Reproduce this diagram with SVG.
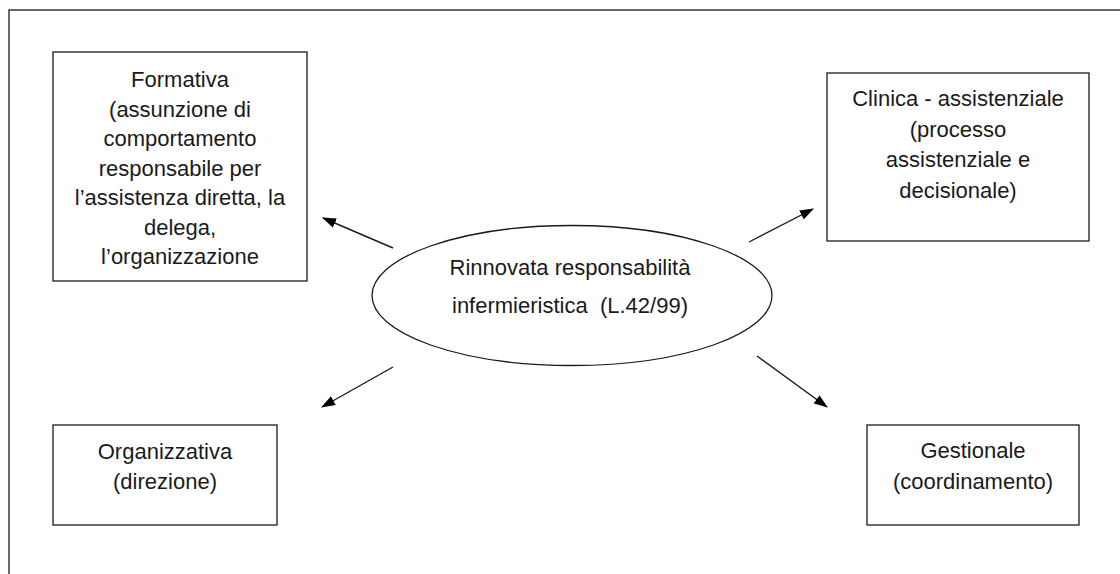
<svg xmlns="http://www.w3.org/2000/svg" width="1120" height="574" viewBox="0 0 1120 574">
<style>
.box{fill:#fff;stroke:#1a1a1a;stroke-width:1.3}
.t{font-family:"Liberation Sans",Arial,sans-serif;font-size:22px;fill:#1a1a1a;text-anchor:middle}
.c{stroke:#1a1a1a;stroke-width:1.4;fill:none;marker-end:url(#ah)}
</style>
<defs>
<marker id="ah" viewBox="0 0 14 10" refX="13" refY="5" markerWidth="14" markerHeight="10" markerUnits="userSpaceOnUse" orient="auto">
<path d="M0,0 L14,5 L0,10 z" fill="#000"/>
</marker>
</defs>
<rect x="0" y="0" width="1120" height="574" fill="#fff"/>
<rect x="9" y="10" width="1120" height="600" fill="none" stroke="#1a1a1a" stroke-width="1.3"/>
<g id="connectors">
<line class="c" x1="393" y1="248" x2="323" y2="218"/>
<line class="c" x1="749" y1="242" x2="813" y2="209"/>
<line class="c" x1="393" y1="367" x2="322" y2="407"/>
<line class="c" x1="757" y1="356" x2="827" y2="407"/>
</g>
<g id="node-formativa">
<rect class="box" x="53" y="52" width="254" height="229"/>
<text class="t" x="180" y="87">Formativa</text>
<text class="t" x="180" y="117">(assunzione di</text>
<text class="t" x="180" y="146">comportamento</text>
<text class="t" x="180" y="176">responsabile per</text>
<text class="t" x="180" y="205">l’assistenza diretta, la</text>
<text class="t" x="180" y="235">delega,</text>
<text class="t" x="180" y="264">l’organizzazione</text>
</g>
<g id="node-clinica">
<rect class="box" x="827" y="73" width="262" height="168"/>
<text class="t" x="958" y="106">Clinica - assistenziale</text>
<text class="t" x="958" y="137">(processo</text>
<text class="t" x="958" y="167">assistenziale e</text>
<text class="t" x="958" y="198">decisionale)</text>
</g>
<g id="node-center">
<ellipse class="box" cx="572" cy="295.5" rx="200" ry="70"/>
<text class="t" x="570" y="275">Rinnovata responsabilità</text>
<text class="t" x="570" y="313" xml:space="preserve">infermieristica  (L.42/99)</text>
</g>
<g id="node-organizzativa">
<rect class="box" x="53" y="425" width="224" height="100"/>
<text class="t" x="165" y="459">Organizzativa</text>
<text class="t" x="165" y="489">(direzione)</text>
</g>
<g id="node-gestionale">
<rect class="box" x="867" y="425" width="212" height="100"/>
<text class="t" x="973" y="458">Gestionale</text>
<text class="t" x="973" y="489">(coordinamento)</text>
</g>
</svg>
